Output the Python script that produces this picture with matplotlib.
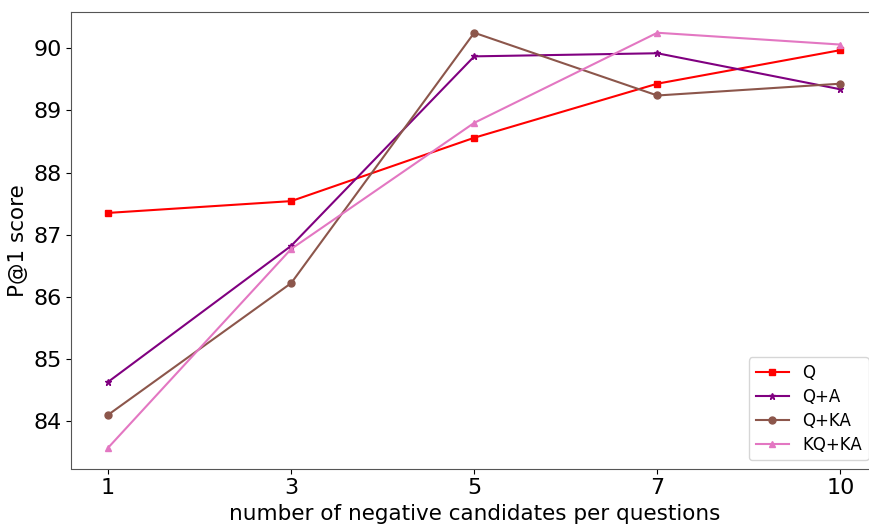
import matplotlib
matplotlib.use("Agg")
import matplotlib.pyplot as plt

x_labels = ["1", "3", "5", "7", "10"]
q = [87.35, 87.54, 88.56, 89.43, 89.97]
qa = [84.63, 86.82, 89.87, 89.92, 89.34]
qka = [84.10, 86.22, 90.25, 89.24, 89.43]
kqka = [83.57, 86.77, 88.80, 90.25, 90.06]

fig = plt.figure(figsize=(8.7, 5.25), dpi=100)
ax = fig.add_axes([71.5/870, 1 - 468.5/525, (877-71.5)/870, (468.5-12)/525])
xs = list(range(len(x_labels)))
ax.plot(xs, q, color="red", marker="s", markersize=5, label="Q")
ax.plot(xs, qa, color="purple", marker="*", markersize=5, label="Q+A")
ax.plot(xs, qka, color="#8c564b", marker="o", markersize=5, label="Q+KA")
ax.plot(xs, kqka, color="#e377c2", marker="^", markersize=5, label="KQ+KA")
ax.set_xticks(xs)
ax.set_xticklabels(x_labels)
ax.tick_params(labelsize=16)
ax.set_xlabel("number of negative candidates per questions", fontsize=15.5)
ax.set_ylabel("P@1 score", fontsize=15.5)
for s in ax.spines.values():
    s.set_color("#555555")
ax.legend(loc="lower right", fontsize=12, labelspacing=0.35)
fig.savefig("out.png", dpi=100)
